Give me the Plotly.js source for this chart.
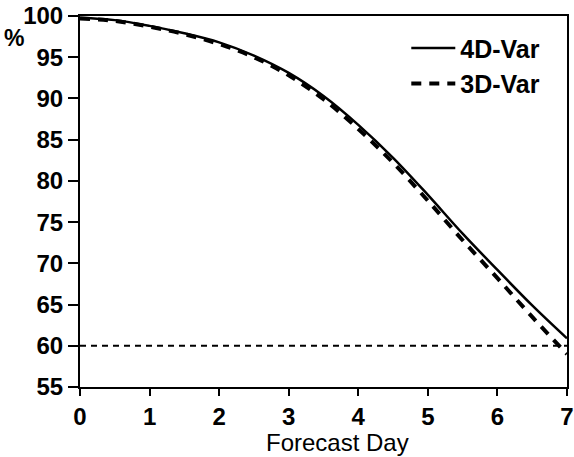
<!DOCTYPE html>
<html>
<head>
<meta charset="utf-8">
<script src="https://cdn.plot.ly/plotly-3.0.1.min.js"></script>
<style>html,body{margin:0;padding:0;background:#fff;}#chart{width:574px;height:457px;}</style>
</head>
<body>
<div id="chart"></div>
<script>
const days = [0, 0.5, 1, 1.5, 2, 2.5, 3, 3.5, 4, 4.5, 5, 5.5, 6, 6.5, 7];
const var4d = [99.8, 99.5, 98.8, 97.9, 96.8, 95.2, 93.1, 90.3, 86.8, 82.8, 78.3, 73.6, 69.2, 64.9, 60.9];
const var3d = [99.7, 99.4, 98.7, 97.8, 96.6, 95.0, 92.8, 89.9, 86.3, 82.2, 77.6, 72.8, 68.2, 63.5, 59.0];
const refX = [0, 7];
const refY = [60, 60];
const xTicks = [0, 1, 2, 3, 4, 5, 6, 7];
const yTicks = [55, 60, 65, 70, 75, 80, 85, 90, 95, 100];
const xTitle = 'Forecast Day';
const yUnit = '%';

const font = {family: 'Liberation Sans, Arial, sans-serif', color: '#000'};
const tickFont = Object.assign({}, font, {size: 24, weight: 'bold'});

const traces = [
  {x: refX, y: refY, mode: 'lines', showlegend: false, hoverinfo: 'skip',
   line: {color: '#000', width: 2, dash: '6px,5px'}},
  {x: days, y: var4d, name: '4D-Var', mode: 'lines',
   line: {color: '#000', width: 2.5, shape: 'spline'}},
  {x: days, y: var3d, name: '3D-Var', mode: 'lines',
   line: {color: '#000', width: 4, dash: '10px,8px', shape: 'spline'}}
];

const layout = {
  width: 574, height: 457,
  margin: {l: 80, r: 7, t: 16, b: 70},
  paper_bgcolor: '#fff', plot_bgcolor: '#fff',
  showlegend: true,
  legend: {x: 0.67, y: 0.975, xanchor: 'left', yanchor: 'top', bgcolor: 'rgba(0,0,0,0)',
           font: Object.assign({}, font, {size: 25, weight: 'bold'}), itemwidth: 44, tracegroupgap: 0},
  xaxis: {
    range: [0, 7], tickvals: xTicks, ticktext: xTicks.map(String),
    showgrid: false, zeroline: false, showline: true, linecolor: '#000', linewidth: 2, mirror: true,
    ticks: 'outside', ticklen: 7, tickwidth: 2, tickcolor: '#000',
    tickfont: tickFont
  },
  yaxis: {
    range: [55, 100], tickvals: yTicks, ticktext: yTicks.map(String),
    showgrid: false, zeroline: false, showline: true, linecolor: '#000', linewidth: 2, mirror: true,
    ticks: 'outside', ticklen: 10, tickwidth: 2, tickcolor: '#000',
    tickfont: tickFont
  },
  annotations: [
    {text: yUnit, xref: 'paper', yref: 'paper', x: -0.135, y: 0.94,
     xanchor: 'center', yanchor: 'middle', showarrow: false,
     font: Object.assign({}, font, {size: 23, weight: 'bold'})},
    {text: xTitle, xref: 'paper', yref: 'paper', x: 0.528, y: -0.15,
     xanchor: 'center', yanchor: 'middle', showarrow: false,
     font: Object.assign({}, font, {size: 24})}
  ]
};

Plotly.newPlot('chart', traces, layout, {staticPlot: true, displayModeBar: false});
</script>
</body>
</html>
